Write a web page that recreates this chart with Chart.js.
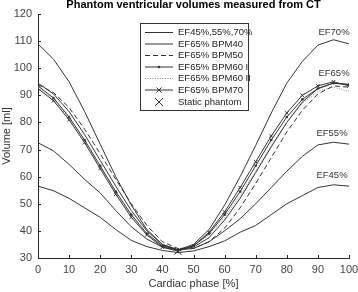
<!DOCTYPE html>
<html>
<head>
<meta charset="utf-8">
<script src="https://cdn.jsdelivr.net/npm/chart.js@4"></script>
<style>
  html, body { margin: 0; padding: 0; background: #fff; }
  #wrap { width: 358px; height: 292px; }
</style>
</head>
<body>
<div id="wrap"><canvas id="grafica" width="358" height="292"></canvas></div>
<script>
// fases del ciclo cardiaco (%)
const phases = [0, 5, 10, 15, 20, 25, 30, 35, 40, 45, 50, 55, 60, 65, 70, 75, 80, 85, 90, 95, 100];

// curvas EF45 / EF55 / EF70
const ef70 = [109, 103.3, 95, 84, 72, 60, 49.5, 40.5, 35, 33, 35, 40.5, 49.5, 60, 71.5, 83.5, 94.5, 102.5, 108.5, 110.5, 109];
const ef55 = [72.5, 69.5, 64.5, 59, 54, 47.5, 41.5, 37, 34, 33, 33.5, 36, 40, 44.5, 50, 56, 62, 67.5, 71.7, 72.7, 72];
const ef45 = [56.5, 54.8, 52, 48.5, 45, 40.5, 36.5, 34.2, 32.8, 32, 32.6, 34.2, 36.3, 39.5, 42, 46, 50, 53, 56, 57, 56.5];

// EF65 a distintos ritmos
const bpm40 = [94.5, 90.5, 84, 75.5, 66, 56.5, 47.5, 40, 35, 33, 34, 37.5, 44, 52, 61.5, 71, 80, 87.5, 92.5, 94.5, 94];
const bpm50 = [94, 91, 85.5, 77.5, 68.5, 59, 50, 42, 36, 33.5, 33.5, 36, 41, 48.5, 57.5, 67, 76.5, 84.5, 90.5, 93.5, 93];
const bpm60a = [93.5, 89, 82, 73.5, 64, 54.5, 46, 39, 34.5, 33, 34.5, 39, 46, 54.5, 64, 73.5, 82, 88.5, 92.5, 94.5, 94];
const bpm60b = [93, 88.5, 81.5, 73, 63.5, 54, 45.5, 38.5, 34.5, 33, 34.5, 38.5, 45, 53, 62, 71.5, 80, 87, 91.5, 93, 91.5];
const bpm70 = [92.5, 88, 81, 72.5, 63, 53.5, 45, 38.5, 34, 32.5, 34.5, 39.5, 47, 56, 65.5, 75, 83.5, 90, 93.5, 95, 93.5];

// fantoma estatico
const staticPhase = [45];
const staticVol = [32.5];

const xTicks = [0, 10, 20, 30, 40, 50, 60, 70, 80, 90, 100];
const yTicks = [30, 40, 50, 60, 70, 80, 90, 100, 110, 120];

const legendLabels = ['EF45%,55%,70%', 'EF65% BPM40', 'EF65% BPM50', 'EF65% BPM60 I', 'EF65% BPM60 II', 'EF65% BPM70', 'Static phantom'];
const curveLabels = ['EF70%', 'EF65%', 'EF55%', 'EF45%'];
const curveLabelPos = [[334, 32], [334, 73], [332, 133], [332, 175]];

const FONT = '"Liberation Sans", Arial, sans-serif';
const LINEA = '#333333';

function puntos(vals) {
    return phases.map((p, i) => ({ x: p, y: vals[i] }));
}

function serie(vals, extra) {
    return Object.assign({
        data: puntos(vals),
        borderColor: LINEA,
        backgroundColor: LINEA,
        borderWidth: 1,
        pointRadius: 0,
        tension: 0,
        fill: false
    }, extra || {});
}

const datasets = [
    serie(ef70),
    serie(ef55),
    serie(ef45),
    serie(bpm40),
    serie(bpm50, { borderDash: [5, 3] }),
    serie(bpm60a, { pointRadius: 1.3, pointStyle: 'circle', pointBorderWidth: 0 }),
    serie(bpm60b, { borderColor: '#888', borderDash: [1, 1.5] }),
    serie(bpm70, { pointRadius: 2.5, pointStyle: 'crossRot', pointBorderWidth: 1 }),
    {
        data: staticPhase.map((p, i) => ({ x: p, y: staticVol[i] })),
        showLine: false,
        borderColor: '#222',
        backgroundColor: '#222',
        pointStyle: 'crossRot',
        pointRadius: 5,
        pointBorderWidth: 1
    }
];

// titulo, leyenda, etiquetas y marcas interiores al estilo MATLAB
const extras = {
    id: 'extras',
    afterDraw(chart) {
        const ctx = chart.ctx;
        const area = chart.chartArea;
        const xs = chart.scales.x;
        const ys = chart.scales.y;
        ctx.save();

        // marcas hacia dentro
        ctx.strokeStyle = '#262626';
        ctx.lineWidth = 1;
        ctx.beginPath();
        xTicks.forEach(t => {
            const px = Math.round(xs.getPixelForValue(t)) + 0.5;
            ctx.moveTo(px, area.bottom);
            ctx.lineTo(px, area.bottom - 3);
        });
        yTicks.forEach(t => {
            const py = Math.round(ys.getPixelForValue(t)) + 0.5;
            ctx.moveTo(area.left, py);
            ctx.lineTo(area.left + 3, py);
        });
        ctx.stroke();

        // titulo
        ctx.fillStyle = '#000';
        ctx.font = 'bold 11px ' + FONT;
        ctx.textAlign = 'center';
        ctx.textBaseline = 'middle';
        ctx.fillText('Phantom ventricular volumes measured from CT', (area.left + area.right) / 2, 5);

        // etiquetas de curvas
        ctx.fillStyle = '#333';
        ctx.font = '9.5px ' + FONT;
        curveLabels.forEach((t, i) => {
            ctx.fillText(t, curveLabelPos[i][0], curveLabelPos[i][1]);
        });

        // leyenda
        const bx = 140.5, by = 23.5, bw = 108, bh = 87;
        ctx.fillStyle = '#fff';
        ctx.fillRect(bx, by, bw, bh);
        ctx.strokeStyle = '#333';
        ctx.strokeRect(bx, by, bw, bh);
        ctx.font = '9.5px ' + FONT;
        ctx.textAlign = 'left';
        const filas = [32.5, 44, 55.5, 67, 78.5, 90, 102];
        filas.forEach((y, i) => {
            const x0 = 145, x1 = 173;
            ctx.save();
            ctx.strokeStyle = LINEA;
            ctx.lineWidth = 1;
            if (i === 2) ctx.setLineDash([5, 3]);
            if (i === 4) { ctx.setLineDash([1, 1.5]); ctx.strokeStyle = '#888'; }
            if (i < 6) {
                ctx.beginPath();
                ctx.moveTo(x0, y);
                ctx.lineTo(x1, y);
                ctx.stroke();
            }
            ctx.setLineDash([]);
            const cx = (x0 + x1) / 2;
            if (i === 3) {
                ctx.fillStyle = LINEA;
                ctx.beginPath();
                ctx.arc(cx, y, 1.3, 0, Math.PI * 2);
                ctx.fill();
            }
            if (i === 5 || i === 6) {
                const r = i === 5 ? 2.5 : 4;
                ctx.beginPath();
                ctx.moveTo(cx - r, y - r); ctx.lineTo(cx + r, y + r);
                ctx.moveTo(cx - r, y + r); ctx.lineTo(cx + r, y - r);
                ctx.stroke();
            }
            ctx.restore();
            ctx.fillStyle = '#222';
            ctx.fillText(legendLabels[i], 178, y);
        });
        ctx.restore();
    }
};

new Chart(document.getElementById('grafica').getContext('2d'), {
    type: 'line',
    data: { datasets: datasets },
    options: {
        responsive: false,
        animation: false,
        layout: { padding: { top: 14, right: 0, left: 0, bottom: 0 } },
        plugins: {
            legend: { display: false },
            title: { display: false },
            tooltip: { enabled: false }
        },
        scales: {
            x: {
                type: 'linear',
                min: 0,
                max: 100,
                afterBuildTicks: s => { s.ticks = xTicks.map(v => ({ value: v })); },
                afterFit: s => { s.height = 34; s.paddingRight = 9; s.paddingLeft = 0; },
                grid: { display: false, drawTicks: false },
                border: { display: true, color: '#262626', width: 1 },
                ticks: { color: '#444', font: { family: FONT, size: 11 }, padding: 5, maxRotation: 0 },
                title: { display: true, text: 'Cardiac phase [%]', color: '#333', font: { family: FONT, size: 11 }, padding: { top: 0, bottom: 1 } }
            },
            y: {
                min: 30,
                max: 120,
                afterBuildTicks: s => { s.ticks = yTicks.map(v => ({ value: v })); },
                afterFit: s => { s.width = 38; },
                grid: { display: false, drawTicks: false },
                border: { display: true, color: '#262626', width: 1 },
                ticks: { color: '#444', font: { family: FONT, size: 11 }, padding: 6 },
                title: { display: true, text: 'Volume [ml]', color: '#333', font: { family: FONT, size: 11 }, padding: { top: 0, bottom: 2 } }
            }
        }
    },
    plugins: [extras]
});
</script>
</body>
</html>
